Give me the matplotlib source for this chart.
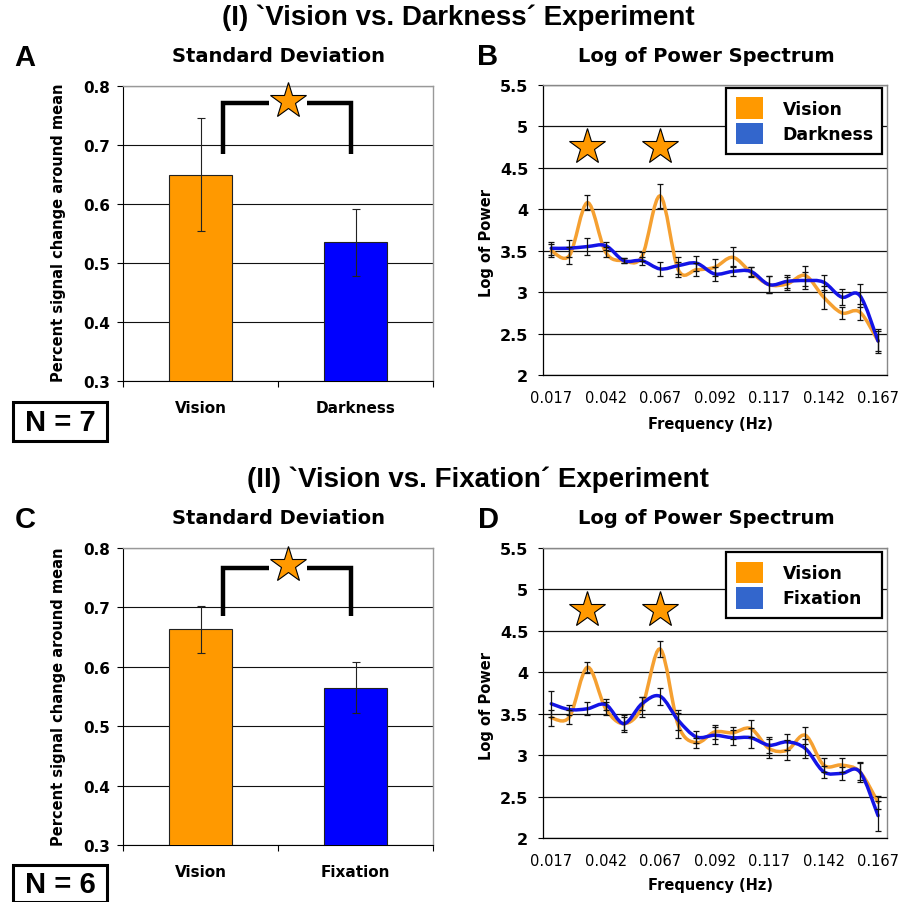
import matplotlib
matplotlib.use('Agg')
import matplotlib.pyplot as plt
from matplotlib.patches import Patch, Rectangle, PathPatch
from matplotlib.path import Path

W, H = 898, 903

# ---------------- data ----------------
bar_cats_1 = ['Vision', 'Darkness']
bar_vals_1 = [0.650, 0.535]
bar_errs_1 = [0.096, 0.057]

bar_cats_2 = ['Vision', 'Fixation']
bar_vals_2 = [0.663, 0.565]
bar_errs_2 = [0.040, 0.043]

freqs = [0.0167, 0.0250, 0.0333, 0.0417, 0.0500, 0.0583, 0.0667, 0.0750, 0.0833,
         0.0917, 0.1000, 0.1083, 0.1167, 0.1250, 0.1333, 0.1417, 0.1500, 0.1583, 0.1667]
freq_ticks = [0.0167, 0.0417, 0.0667, 0.0917, 0.1167, 0.1417, 0.1667]
freq_tick_labels = ['0.017', '0.042', '0.067', '0.092', '0.117', '0.142', '0.167']

vision_B = [3.50, 3.44, 4.08, 3.48, 3.38, 3.43, 4.16, 3.27, 3.27, 3.30, 3.42, 3.24,
            3.09, 3.10, 3.20, 2.94, 2.75, 2.76, 2.41]
vision_B_err = [0.08, 0.10, 0.09, 0.06, 0.03, 0.06, 0.14, 0.09, 0.08, 0.10, 0.12, 0.06,
                0.10, 0.08, 0.12, 0.14, 0.07, 0.10, 0.15]
dark_B = [3.53, 3.53, 3.55, 3.56, 3.38, 3.38, 3.28, 3.32, 3.35, 3.22, 3.25, 3.25,
          3.09, 3.13, 3.14, 3.12, 2.94, 2.96, 2.41]
dark_B_err = [0.08, 0.10, 0.10, 0.05, 0.03, 0.05, 0.08, 0.10, 0.09, 0.08, 0.06, 0.05,
              0.10, 0.08, 0.10, 0.09, 0.10, 0.14, 0.12]

vision_D = [3.45, 3.46, 4.06, 3.56, 3.38, 3.58, 4.28, 3.36, 3.15, 3.28, 3.27, 3.32,
            3.08, 3.06, 3.24, 2.88, 2.88, 2.80, 2.43]
vision_D_err = [0.10, 0.08, 0.07, 0.08, 0.08, 0.12, 0.10, 0.15, 0.06, 0.08, 0.07, 0.10,
                0.12, 0.12, 0.10, 0.08, 0.08, 0.12, 0.08]
fix_D = [3.62, 3.55, 3.56, 3.61, 3.38, 3.62, 3.71, 3.42, 3.22, 3.24, 3.21, 3.21,
         3.12, 3.16, 3.08, 2.80, 2.78, 2.80, 2.27]
fix_D_err = [0.16, 0.06, 0.08, 0.07, 0.10, 0.08, 0.10, 0.12, 0.07, 0.10, 0.09, 0.12,
             0.10, 0.10, 0.12, 0.07, 0.08, 0.10, 0.18]

star_freqs = [0.0333, 0.0667]

ORANGE_BAR = '#FF9900'
BLUE_BAR = '#0000FF'
ORANGE_LINE = '#F5A031'
BLUE_LINE = '#1414E6'
BLUE_LEG = '#3366CC'

fig = plt.figure(figsize=(W / 100, H / 100), dpi=100)


def rect(l, t, r, b):
    return [l / W, 1 - b / H, (r - l) / W, (b - t) / H]


def ftext(x, y, s, **kw):
    fig.text(x / W, 1 - y / H, s, ha=kw.pop('ha', 'center'), va=kw.pop('va', 'center'), **kw)


def smooth_path(x, y):
    verts = [(x[0], y[0])]
    codes = [Path.MOVETO]
    n = len(x)
    for i in range(n - 1):
        xa, ya = (x[i - 1], y[i - 1]) if i > 0 else (x[i], y[i])
        xd, yd = (x[i + 2], y[i + 2]) if i + 2 < n else (x[i + 1], y[i + 1])
        c1 = (x[i] + (x[i + 1] - xa) / 6, y[i] + (y[i + 1] - ya) / 6)
        c2 = (x[i + 1] - (xd - x[i]) / 6, y[i + 1] - (yd - y[i]) / 6)
        verts += [c1, c2, (x[i + 1], y[i + 1])]
        codes += [Path.CURVE4] * 3
    return Path(verts, codes)


def bar_panel(ax, cats, vals, errs, br_top, br_leg, star_y):
    ax.bar([0, 1], vals, width=0.41, color=[ORANGE_BAR, BLUE_BAR],
           edgecolor='#222222', linewidth=0.8, zorder=3)
    ax.errorbar([0, 1], vals, yerr=errs, fmt='none', ecolor='#222222',
                elinewidth=0.8, capsize=3, capthick=0.8, zorder=4)
    ax.set_xlim(-0.5, 1.5)
    ax.set_ylim(0.3, 0.8)
    yt = [0.3, 0.4, 0.5, 0.6, 0.7, 0.8]
    ax.set_yticks(yt)
    ax.set_yticklabels(['%.1f' % v for v in yt], fontweight='bold', fontsize=11)
    ax.yaxis.grid(True, color='#111111', linewidth=0.8, zorder=0)
    ax.set_axisbelow(True)
    ax.set_xticks([0, 1])
    ax.set_xticklabels(cats, fontweight='bold', fontsize=11)
    ax.set_xticks([-0.5, 0.5, 1.5], minor=True)
    ax.tick_params(axis='x', which='major', length=0, pad=14)
    ax.tick_params(axis='x', which='minor', length=4, direction='out', width=0.8)
    ax.tick_params(axis='y', length=4, width=0.8, pad=5)
    for s in ['top', 'right']:
        ax.spines[s].set_color('#999999')
        ax.spines[s].set_linewidth(1.0)
    for s in ['left', 'bottom']:
        ax.spines[s].set_color('black')
        ax.spines[s].set_linewidth(0.8)
    # significance bracket
    ax.plot([0.145, 0.145, 0.44], [br_leg, br_top, br_top], color='black', lw=3.2,
            solid_capstyle='butt', solid_joinstyle='miter', zorder=5, clip_on=False)
    ax.plot([0.69, 0.97, 0.97], [br_top, br_top, br_leg], color='black', lw=3.2,
            solid_capstyle='butt', solid_joinstyle='miter', zorder=5, clip_on=False)
    ax.plot([0.565], [star_y], marker='*', ms=27, mfc=ORANGE_BAR, mec='black',
            mew=0.8, zorder=6, clip_on=False)


def line_panel(ax, vis, vis_err, other, other_err, other_label, leg_top):
    ax.add_patch(PathPatch(smooth_path(freqs, vis), fill=False, edgecolor=ORANGE_LINE,
                           lw=2.5, zorder=3, capstyle='round'))
    ax.add_patch(PathPatch(smooth_path(freqs, other), fill=False, edgecolor=BLUE_LINE,
                           lw=2.5, zorder=4, capstyle='round'))
    ax.errorbar(freqs, vis, yerr=vis_err, fmt='none', ecolor='#111111', elinewidth=0.9,
                capsize=2.5, capthick=0.9, zorder=5)
    ax.errorbar(freqs, other, yerr=other_err, fmt='none', ecolor='#111111', elinewidth=0.9,
                capsize=2.5, capthick=0.9, zorder=5)
    ax.plot(star_freqs, [4.75, 4.75], linestyle='none', marker='*', ms=27,
            mfc=ORANGE_BAR, mec='black', mew=0.8, zorder=6)
    ax.set_xlim(0.0129, 0.1708)
    ax.set_ylim(2, 5.5)
    yt = [2, 2.5, 3, 3.5, 4, 4.5, 5, 5.5]
    ax.set_yticks(yt)
    ax.set_yticklabels(['%g' % v for v in yt], fontweight='bold', fontsize=11.5)
    ax.set_xticks(freq_ticks)
    ax.set_xticklabels(freq_tick_labels, fontsize=10.5)
    ax.tick_params(axis='x', length=0, pad=11)
    ax.tick_params(axis='y', length=3.6, width=0.8, pad=7)
    ax.yaxis.grid(True, color='#111111', linewidth=0.9, zorder=0)
    ax.set_axisbelow(True)
    for s in ['top', 'right']:
        ax.spines[s].set_color('#888888')
        ax.spines[s].set_linewidth(1.0)
    for s in ['left', 'bottom']:
        ax.spines[s].set_color('black')
        ax.spines[s].set_linewidth(0.9)
    handles = [Patch(facecolor=ORANGE_BAR, edgecolor='none', label='Vision'),
               Patch(facecolor=BLUE_LEG, edgecolor='none', label=other_label)]
    leg_w = 0.453
    leg_x0 = 0.532
    leg = ax.legend(handles=handles, loc='upper left',
                    bbox_to_anchor=(leg_x0, leg_top - 0.3, leg_w, 0.3), mode='expand',
                    borderaxespad=0, prop={'weight': 'bold', 'size': 12.5},
                    handlelength=1.6, handleheight=1.55, handletextpad=1.1,
                    labelspacing=0.2, borderpad=0.55, fancybox=False, framealpha=1,
                    edgecolor='black')
    leg.get_frame().set_linewidth(1.6)
    leg.set_zorder(10)


# ---------------- panels ----------------
axA = fig.add_axes(rect(123, 87, 433, 382))
bar_panel(axA, bar_cats_1, bar_vals_1, bar_errs_1, 0.772, 0.684, 0.775)
axC = fig.add_axes(rect(123, 549, 433, 846))
bar_panel(axC, bar_cats_2, bar_vals_2, bar_errs_2, 0.767, 0.685, 0.771)

axB = fig.add_axes(rect(543, 86, 887, 376))
line_panel(axB, vision_B, vision_B_err, dark_B, dark_B_err, 'Darkness', 0.99)
axD = fig.add_axes(rect(543, 549, 887, 839))
line_panel(axD, vision_D, vision_D_err, fix_D, fix_D_err, 'Fixation', 0.986)

# ---------------- texts ----------------
helv = ['Liberation Sans', 'DejaVu Sans']
ftext(458, 18, "(I) `Vision vs. Darkness\u00b4 Experiment", fontsize=20, family=helv,
      fontweight='bold')
ftext(478, 480, "(II) `Vision vs. Fixation\u00b4 Experiment", fontsize=20, family=helv,
      fontweight='bold')

for (x, y, s) in [(25, 58, 'A'), (488, 57, 'B'), (25, 520, 'C'), (488, 520, 'D')]:
    ftext(x, y, s, fontsize=21, fontweight='bold', family=helv)

ftext(279, 56, 'Standard Deviation', fontsize=14, fontweight='bold')
ftext(279, 518, 'Standard Deviation', fontsize=14, fontweight='bold')
ftext(706, 56, 'Log of Power Spectrum', fontsize=14, fontweight='bold')
ftext(706, 518, 'Log of Power Spectrum', fontsize=14, fontweight='bold')

ftext(59, 233, 'Percent signal change around mean', fontsize=10.5, fontweight='bold',
      rotation=90)
ftext(59, 697, 'Percent signal change around mean', fontsize=10.5, fontweight='bold',
      rotation=90)
ftext(486, 243, 'Log of Power', fontsize=10.5, fontweight='bold', rotation=90)
ftext(486, 706, 'Log of Power', fontsize=10.5, fontweight='bold', rotation=90)
ftext(710, 424, 'Frequency (Hz)', fontsize=10.5, fontweight='bold')
ftext(710, 886, 'Frequency (Hz)', fontsize=10.5, fontweight='bold')

# N boxes
for (t, b, s) in [(403, 442, 'N = 7'), (866, 903, 'N = 6')]:
    fig.patches.append(Rectangle((13 / W, 1 - b / H), 94 / W, (b - t) / H,
                                 transform=fig.transFigure, fill=False,
                                 edgecolor='black', linewidth=2.2))
    ftext(60, (t + b) / 2 + 1, s, fontsize=21, fontweight='bold', family=helv)

fig.savefig('out.png', dpi=100)
